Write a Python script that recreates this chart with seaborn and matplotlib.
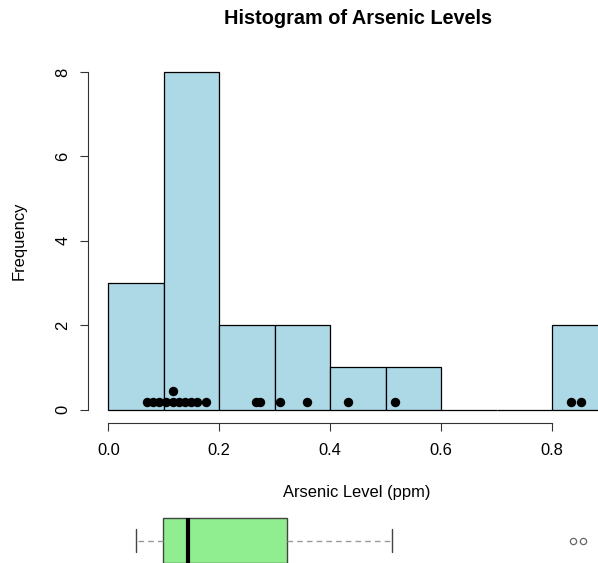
import numpy as np
import pandas as pd
import matplotlib
matplotlib.use("Agg")
import matplotlib.pyplot as plt
import seaborn as sns

# ---- data ----
arsenic = [0.070, 0.080, 0.092, 0.104, 0.117, 0.117, 0.127, 0.138, 0.149, 0.160, 0.176,
           0.267, 0.273, 0.310, 0.358, 0.433, 0.517, 0.834, 0.852]
breaks = [0.0, 0.1, 0.2, 0.3, 0.4, 0.5, 0.6, 0.7, 0.8, 0.9]
x_ticks = [0.0, 0.2, 0.4, 0.6, 0.8]
x_tick_labels = ["0.0", "0.2", "0.4", "0.6", "0.8"]
y_ticks = [0, 2, 4, 6, 8]
y_tick_labels = ["0", "2", "4", "6", "8"]
title = "Histogram of Arsenic Levels"
x_label = "Arsenic Level (ppm)"
y_label = "Frequency"

sns.set_style("white")
plt.rcParams["font.family"] = ["Liberation Sans", "DejaVu Sans"]
plt.rcParams["text.color"] = "black"

W, H = 598, 563
fig = plt.figure(figsize=(W / 100, H / 100), dpi=100)

def fx(px):
    return px / W

def fy(py):
    return 1 - py / H

# histogram panel (plot region extends past the right edge, as in the reference)
left_px, right_px, top_px, bot_px = 88.3, 627.5, 58.5, 423.0
ax = fig.add_axes([fx(left_px), fy(bot_px), fx(right_px - left_px), (bot_px - top_px) / H])

df = pd.DataFrame({"arsenic": arsenic})
sns.histplot(data=df, x="arsenic", bins=breaks, color="#ADD8E6", edgecolor="black",
             linewidth=0.9, alpha=1, ax=ax)

# stacked strip of the raw values
df["stack"] = df.groupby("arsenic").cumcount()
df["ypos"] = 0.17 + 0.28 * df["stack"]
sns.scatterplot(data=df, x="arsenic", y="ypos", color="black", s=46, linewidth=0,
                ax=ax, legend=False, zorder=5)

ax.set_xlim(-0.036, 0.936)
ax.set_ylim(-0.32, 8.32)
ax.set_xticks(x_ticks)
ax.set_xticklabels(x_tick_labels)
ax.set_yticks(y_ticks)
ax.set_yticklabels(y_tick_labels, rotation=90, va="center")
ax.set_xlabel("")
ax.set_ylabel("")
for side in ["top", "right"]:
    ax.spines[side].set_visible(False)
ax.spines["bottom"].set_bounds(0, 0.8)
ax.spines["left"].set_bounds(0, 8)
for side in ["bottom", "left"]:
    ax.spines[side].set_color("#333333")
    ax.spines[side].set_linewidth(0.8)
ax.tick_params(axis="both", direction="out", length=6, width=0.8, color="#333333",
               labelsize=11.9, labelcolor="black")
ax.tick_params(axis="x", pad=8.5, bottom=True)
ax.tick_params(axis="y", pad=7, left=True)
ax.grid(False)

fig.text(fx(357.8), fy(19), title, ha="center", va="center", fontsize=14.3,
         fontweight="bold", color="black")
fig.text(fx(356.5), fy(493), x_label, ha="center", va="center", fontsize=11.9,
         color="black")
fig.text(fx(19), fy(240.5), y_label, ha="center", va="center", rotation=90,
         fontsize=11.9, color="black")

# boxplot panel below (its own x scale)
bax = fig.add_axes([fx(left_px), fy(581), fx(right_px - left_px), 81 / H])
sns.boxplot(x=arsenic, orient="h", color="#90EE90", saturation=1, width=0.556,
            linecolor="#444444", linewidth=1.0, fliersize=4.5,
            medianprops={"color": "black", "linewidth": 3},
            whiskerprops={"color": "#999999", "linestyle": (0, (4, 3)), "linewidth": 1},
            capprops={"color": "#444444", "linewidth": 1},
            flierprops={"marker": "o", "markerfacecolor": "none",
                        "markeredgecolor": "#666666", "markeredgewidth": 0.9},
            ax=bax)
bax.set_xlim(-0.014, 0.930)
bax.set_ylim(0.5, -0.5)
bax.axis("off")

fig.savefig("out.png", dpi=100)
